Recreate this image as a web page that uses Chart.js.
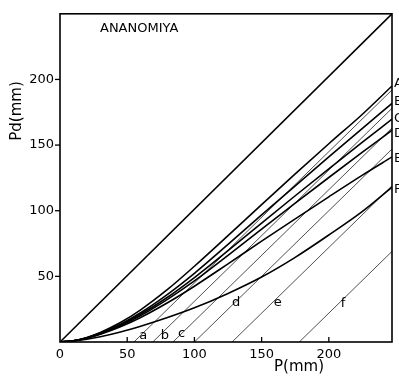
<!DOCTYPE html>
<html>
<head>
<meta charset="utf-8">
<script src="https://cdn.jsdelivr.net/npm/chart.js@4.4.1/dist/chart.umd.min.js"></script>
<style>
html,body{margin:0;padding:0;background:#fff;}
#wrap{width:399px;height:378px;position:relative;}
</style>
</head>
<body>
<div id="wrap"><canvas id="c" width="399" height="378"></canvas></div>
<script>
// ---- data ----
const xTicks = [0, 50, 100, 150, 200];
const yTicks = [50, 100, 150, 200];
const P      = [0, 10, 20, 30, 45, 60, 80, 100, 125, 150, 175, 200, 225, 247];
const curveA = [0, 1.0, 3.5, 7.3, 14.8, 24.5, 40.0, 57.7, 81.0, 104.7, 128.0, 151.0, 173.5, 195.0];
const curveB = [0, 1.0, 3.3, 6.8, 13.6, 22.3, 36.3, 52.3, 74.3, 96.8, 119.0, 141.0, 162.8, 181.7];
const curveC = [0, 0.9, 3.1, 6.4, 12.9, 21.1, 34.1, 49.1, 69.6, 90.6, 111.4, 131.9, 152.2, 169.8];
const curveD = [0, 0.9, 3.0, 6.1, 12.3, 20.1, 32.5, 46.5, 66.0, 86.0, 105.8, 125.3, 144.6, 161.3];
const curveE = [0, 0.9, 2.9, 5.9, 11.6, 18.7, 29.9, 42.5, 59.5, 76.8, 93.8, 110.6, 127.1, 141.0];
const curveF = [0, 0.7, 2.1, 4.0, 7.6, 12.0, 18.6, 26.0, 37.0, 49.5, 64.5, 81.5, 99.5, 118.0];
const curveNames = ['A', 'B', 'C', 'D', 'E', 'F'];
const curveLabelPd = [197, 183, 170, 159, 140, 116];
const thinNames = ['a', 'b', 'c', 'd', 'e', 'f'];
const thinStartP = [55, 69, 84, 100, 128, 178];   // where each thin line leaves Pd = 0
const thinEndP = 247;
const thinEndPd = [192, 178, 163, 147, 119, 69];  // Pd at the right edge
const thinLabelP = [62, 78, 90.5, 131, 162, 210.5];
const thinLabelPd = [5, 5, 6, 30, 30, 29];
const diagP = [0, 247];
const diagPd = [0, 250];
const xMax = 247, yMax = 250;

const curves = [curveA, curveB, curveC, curveD, curveE, curveF];
const FONT = '"DejaVu Sans", sans-serif';

const datasets = [];
datasets.push({
  data: diagP.map((x, i) => ({x, y: diagPd[i]})),
  borderColor: '#000', borderWidth: 1.6, pointRadius: 0, showLine: true, tension: 0
});
curves.forEach(c => {
  datasets.push({
    data: P.map((x, i) => ({x, y: c[i]})),
    borderColor: '#000', borderWidth: 1.6, pointRadius: 0, showLine: true,
    tension: 0.4, cubicInterpolationMode: 'monotone'
  });
});
thinStartP.forEach((s, i) => {
  datasets.push({
    data: [{x: s, y: 0}, {x: thinEndP, y: thinEndPd[i]}],
    borderColor: '#222', borderWidth: 0.8, pointRadius: 0, showLine: true, tension: 0
  });
});

const deco = {
  id: 'deco',
  afterDraw(chart) {
    const ctx = chart.ctx, a = chart.chartArea;
    const xs = chart.scales.x, ys = chart.scales.y;
    ctx.save();
    ctx.strokeStyle = '#000';
    ctx.lineWidth = 1.6;
    ctx.strokeRect(a.left, a.top, a.right - a.left, a.bottom - a.top);
    ctx.lineWidth = 1.3;
    xTicks.slice(1).forEach(v => {
      const px = xs.getPixelForValue(v);
      ctx.beginPath(); ctx.moveTo(px, a.bottom); ctx.lineTo(px, a.bottom - 5); ctx.stroke();
    });
    yTicks.forEach(v => {
      const py = ys.getPixelForValue(v);
      ctx.beginPath(); ctx.moveTo(a.left - 5, py); ctx.lineTo(a.left, py); ctx.stroke();
    });
    ctx.fillStyle = '#000';
    // title
    ctx.font = '13px ' + FONT;
    ctx.textAlign = 'left'; ctx.textBaseline = 'middle';
    ctx.fillText('ANANOMIYA', 100, 29);
    // axis titles
    ctx.font = '15px ' + FONT;
    ctx.textAlign = 'center';
    ctx.fillText('P(mm)', 299, 367);
    ctx.save();
    ctx.translate(17, 111);
    ctx.rotate(-Math.PI / 2);
    ctx.fillText('Pd(mm)', 0, 0);
    ctx.restore();
    // curve labels at right edge
    ctx.font = '13px ' + FONT;
    ctx.textAlign = 'left';
    curveNames.forEach((n, i) => {
      ctx.fillText(n, a.right + 2, ys.getPixelForValue(curveLabelPd[i]));
    });
    // thin line labels
    ctx.textAlign = 'center';
    thinNames.forEach((n, i) => {
      ctx.fillText(n, xs.getPixelForValue(thinLabelP[i]), ys.getPixelForValue(thinLabelPd[i]));
    });
    ctx.restore();
  }
};

new Chart(document.getElementById('c'), {
  type: 'scatter',
  data: {datasets},
  plugins: [deco],
  options: {
    responsive: false,
    animation: false,
    events: [],
    layout: {padding: {top: 9, right: 7, left: 0, bottom: 0}},
    plugins: {legend: {display: false}, tooltip: {enabled: false}, title: {display: false}},
    scales: {
      x: {
        type: 'linear', min: 0, max: xMax,
        afterBuildTicks: s => { s.ticks = xTicks.map(v => ({value: v})); },
        afterFit: s => { s.height = 36; },
        grid: {display: false, drawTicks: false},
        border: {display: false},
        ticks: {color: '#000', font: {family: FONT, size: 13}, padding: 5, maxRotation: 0,
                callback: v => String(v)}
      },
      y: {
        type: 'linear', min: 0, max: yMax,
        afterBuildTicks: s => { s.ticks = yTicks.map(v => ({value: v})); },
        afterFit: s => { s.width = 60; },
        grid: {display: false, drawTicks: false},
        border: {display: false},
        ticks: {color: '#000', font: {family: FONT, size: 13}, padding: 6,
                callback: v => String(v)}
      }
    }
  }
});
</script>
</body>
</html>
